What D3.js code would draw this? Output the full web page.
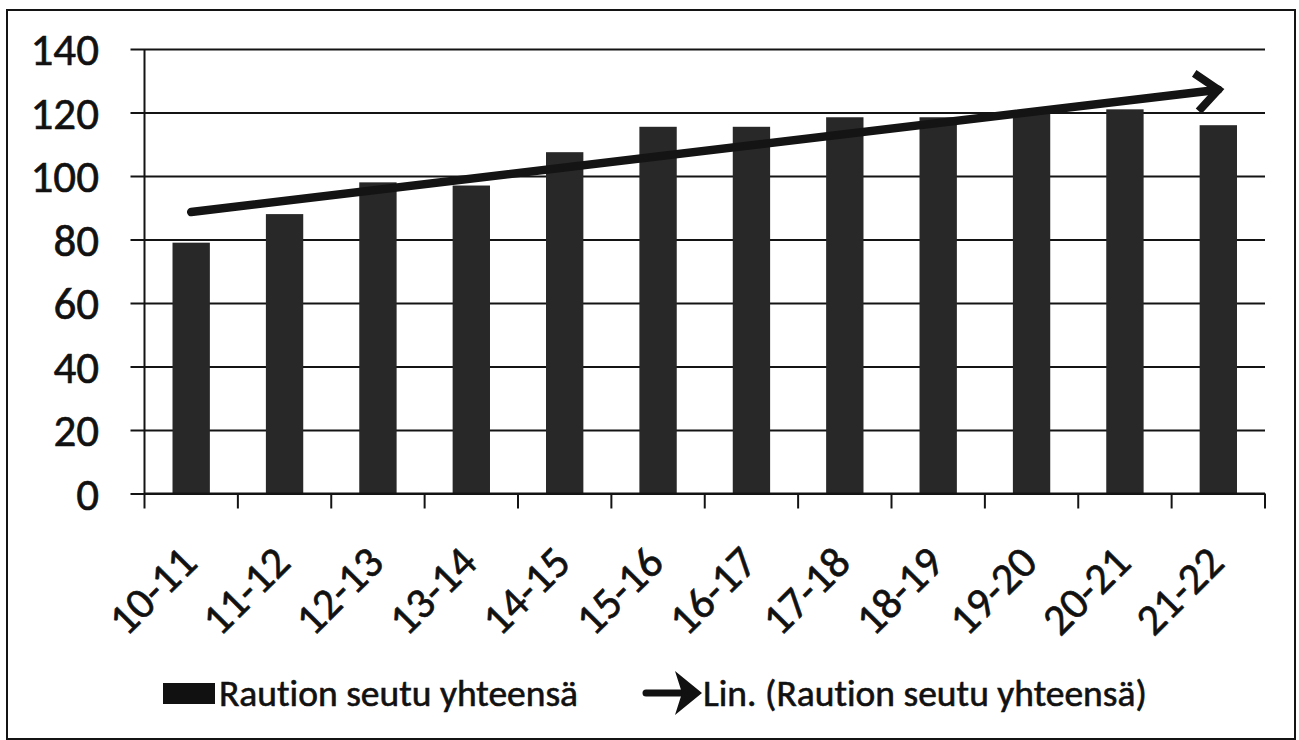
<!DOCTYPE html>
<html>
<head>
<meta charset="utf-8">
<script src="https://cdn.jsdelivr.net/npm/d3@7"></script>
<style>
  html, body { margin: 0; padding: 0; background: #fff; }
  svg { display: block; }
  text { font-family: Carlito, Lato, "Open Sans", sans-serif; fill: #111; stroke: #111; stroke-width: 0.6px;
         font-variant-ligatures: none; font-feature-settings: "liga" 0; }
</style>
</head>
<body>
<svg id="chart" width="1299" height="740"></svg>
<script>
// ---- data ----
const categories = ["10-11","11-12","12-13","13-14","14-15","15-16","16-17","17-18","18-19","19-20","20-21","21-22"];
const values = [79, 88, 98, 97, 107.5, 115.5, 115.5, 118.5, 118.5, 120.5, 121, 116];
const yTicks = [0, 20, 40, 60, 80, 100, 120, 140];
const seriesName = "Raution seutu yhteensä";
const trendName = "Lin. (Raution seutu yhteensä)";

// ---- layout ----
const plot = { left: 144.5, right: 1265, top: 49, bottom: 493.5 };
const ink = "#141414";
const barColor = "#282828";

const svg = d3.select("#chart");

// outer border
svg.append("rect")
  .attr("x", 7).attr("y", 10).attr("width", 1288).attr("height", 729)
  .attr("fill", "none").attr("stroke", ink).attr("stroke-width", 2);

const x = d3.scaleBand().domain(categories).range([plot.left, plot.right]).paddingInner(0.6).paddingOuter(0.3);
const y = d3.scaleLinear().domain([0, 140]).range([plot.bottom, plot.top]);

// gridlines (with outside tick marks)
const yAxis = d3.axisLeft(y).tickValues(yTicks).tickSize(-(plot.right - plot.left)).tickSizeOuter(0).tickFormat("");
const gy = svg.append("g").attr("transform", `translate(${plot.left},0)`).call(yAxis);
gy.select(".domain").remove();
gy.selectAll(".tick line").attr("x1", -14).attr("stroke", ink).attr("stroke-width", 2);

// y labels
svg.append("g").selectAll("text").data(yTicks).join("text")
  .attr("x", 99).attr("y", d => y(d)).attr("dy", "0.36em")
  .attr("text-anchor", "end").attr("font-size", 45).text(d => d);

// y axis line
svg.append("line").attr("x1", plot.left).attr("x2", plot.left)
  .attr("y1", plot.top).attr("y2", plot.bottom)
  .attr("stroke", ink).attr("stroke-width", 2);

// bars
svg.append("g").selectAll("rect").data(categories).join("rect")
  .attr("x", d => x(d)).attr("width", x.bandwidth())
  .attr("y", (d, i) => y(values[i]))
  .attr("height", (d, i) => y(0) - y(values[i]))
  .attr("fill", barColor);

// x axis with ticks at band boundaries
const step = x.step();
const bounds = d3.range(categories.length + 1).map(i => plot.left + i * step);
svg.append("line").attr("x1", plot.left).attr("x2", plot.right)
  .attr("y1", plot.bottom).attr("y2", plot.bottom)
  .attr("stroke", ink).attr("stroke-width", 2);
svg.append("g").selectAll("line").data(bounds).join("line")
  .attr("x1", d => d).attr("x2", d => d)
  .attr("y1", plot.bottom).attr("y2", plot.bottom + 15)
  .attr("stroke", ink).attr("stroke-width", 2);

// x labels rotated
svg.append("g").selectAll("text").data(categories).join("text")
  .attr("text-anchor", "end").attr("font-size", 44)
  .attr("transform", d => `translate(${x(d) + x.bandwidth() / 2 + 8},565) rotate(-45)`)
  .text(d => d);

// linear trend (least squares over category index)
const idx = values.map((v, i) => i + 1);
const mx = d3.mean(idx), my = d3.mean(values);
const slope = d3.sum(idx, (xi, i) => (xi - mx) * (values[i] - my)) / d3.sum(idx, xi => (xi - mx) ** 2);
const intercept = my - slope * mx;
const trend = [1, categories.length].map(xi => [categories[xi - 1], intercept + slope * xi]);
const p0 = [x(trend[0][0]) + x.bandwidth() / 2, y(trend[0][1])];
const p1 = [x(trend[1][0]) + x.bandwidth() / 2, y(trend[1][1])];
svg.append("line").attr("x1", p0[0]).attr("y1", p0[1]).attr("x2", p1[0]).attr("y2", p1[1])
  .attr("stroke", ink).attr("stroke-width", 8.5).attr("stroke-linecap", "round");
// open arrowhead
const ang = Math.atan2(p1[1] - p0[1], p1[0] - p0[0]);
const ux = Math.cos(ang), uy = Math.sin(ang), nx = -uy, ny = ux;
const back = 22, wing = 19;
const w1 = [p1[0] - back * ux + wing * nx, p1[1] - back * uy + wing * ny];
const w2 = [p1[0] - back * ux - wing * nx, p1[1] - back * uy - wing * ny];
svg.append("path").attr("d", `M${w1}L${p1}L${w2}`)
  .attr("fill", "none").attr("stroke", ink).attr("stroke-width", 8)
  .attr("stroke-linejoin", "miter").attr("stroke-linecap", "butt");

// legend
const lg = svg.append("g");
lg.append("rect").attr("x", 163).attr("y", 683).attr("width", 52).attr("height", 21).attr("fill", "#111");
lg.append("text").attr("x", 219).attr("y", 706).attr("font-size", 37.5).text(seriesName);
lg.append("line").attr("x1", 646).attr("x2", 684).attr("y1", 693).attr("y2", 693)
  .attr("stroke", "#111").attr("stroke-width", 7).attr("stroke-linecap", "round");
lg.append("path").attr("d", "M702,693 L675,671 L682,693 L675,715 Z").attr("fill", "#111");
lg.append("text").attr("x", 703).attr("y", 706).attr("font-size", 37.5).text(trendName);
</script>
</body>
</html>
